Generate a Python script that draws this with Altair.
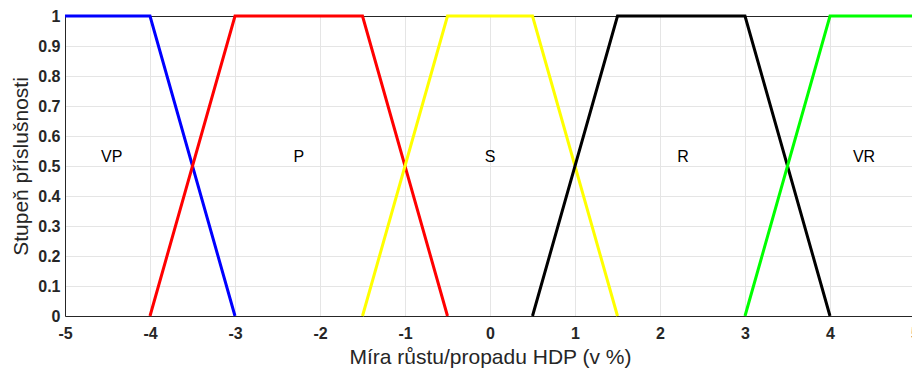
import altair as alt
import pandas as pd

# Fuzzy membership functions for GDP growth/decline (in %)
sets = ["VP", "P", "S", "R", "VR"]
colors = ["#0000ff", "#ff0000", "#ffff00", "#000000", "#00ff00"]
vp_x = [-5, -4, -3]
vp_y = [1, 1, 0]
p_x = [-4, -3, -1.5, -0.5]
p_y = [0, 1, 1, 0]
s_x = [-1.5, -0.5, 0.5, 1.5]
s_y = [0, 1, 1, 0]
r_x = [0.5, 1.5, 3, 4]
r_y = [0, 1, 1, 0]
vr_x = [3, 4, 5]
vr_y = [0, 1, 1]

# Label positions for each linguistic term
label_x = [-4.45, -2.25, 0, 2.27, 4.4]
label_y = [0.53, 0.53, 0.53, 0.53, 0.53]

x_ticks = [-5, -4, -3, -2, -1, 0, 1, 2, 3, 4, 5]
y_ticks = [0, 0.1, 0.2, 0.3, 0.4, 0.5, 0.6, 0.7, 0.8, 0.9, 1]

rows = []
for name, xs, ys in zip(sets, [vp_x, p_x, s_x, r_x, vr_x], [vp_y, p_y, s_y, r_y, vr_y]):
    for i, (xv, yv) in enumerate(zip(xs, ys)):
        rows.append({"set": name, "x": xv, "y": yv, "i": i})
df = pd.DataFrame(rows)
labels = pd.DataFrame({"set": sets, "x": label_x, "y": label_y})

FONT = "Liberation Sans"
INK = "#262626"
GRID = "#e5e5e5"
xscale = alt.Scale(domain=[-5, 5], range=[0, 850], nice=False, zero=False)
yscale = alt.Scale(domain=[0, 1], nice=False, zero=False)

lines = alt.Chart(df).mark_line(strokeWidth=3, clip=False).encode(
    x=alt.X("x:Q", scale=xscale,
            axis=alt.Axis(values=x_ticks, title="Míra růstu/propadu HDP (v %)",
                          labelExpr="'' + datum.value",
                          labelFont=FONT, labelFontSize=16, labelFontWeight="bold",
                          labelColor=INK, labelPadding=9, ticks=False,
                          titleFont=FONT, titleFontSize=21, titleFontWeight="normal",
                          titleColor=INK, titlePadding=5,
                          domainColor=INK, gridColor=GRID,
                          labelFlush=False, labelOverlap=False)),
    y=alt.Y("y:Q", scale=yscale,
            axis=alt.Axis(values=y_ticks, title="Stupeň příslušnosti",
                          labelExpr="datum.value == 0 || datum.value == 1 ? format(datum.value, 'd') : format(datum.value, '.1f')",
                          labelFont=FONT, labelFontSize=16, labelFontWeight="bold",
                          labelColor=INK, labelPadding=5, ticks=False,
                          titleFont=FONT, titleFontSize=21, titleFontWeight="normal",
                          titleColor=INK, titlePadding=6,
                          domainColor=INK, gridColor=GRID,
                          labelFlush=False, labelOverlap=False)),
    color=alt.Color("set:N", scale=alt.Scale(domain=sets, range=colors), legend=None),
    detail="set:N",
    order="i:Q",
)

texts = alt.Chart(labels).mark_text(font=FONT, fontSize=16, color="#000000").encode(
    x=alt.X("x:Q", scale=xscale,
            axis=alt.Axis(orient="top", labels=False, ticks=False, title=None, grid=False,
                          domainColor=INK)),
    y=alt.Y("y:Q", scale=yscale,
            axis=alt.Axis(orient="right", labels=False, ticks=False, title=None, grid=False,
                          domainColor=INK)),
    text="set:N",
)

chart = (
    alt.layer(lines, texts)
    .resolve_axis(x="independent", y="independent")
    .properties(
        width=847,
        height=300,
        autosize=alt.AutoSizeParams(type="none"),
        padding={"left": 65, "top": 16, "right": 0, "bottom": 54},
    )
    .configure_view(stroke=None)
    .configure(background="white")
)

chart.save("out.html", embed_options={"renderer": "svg", "actions": False})
